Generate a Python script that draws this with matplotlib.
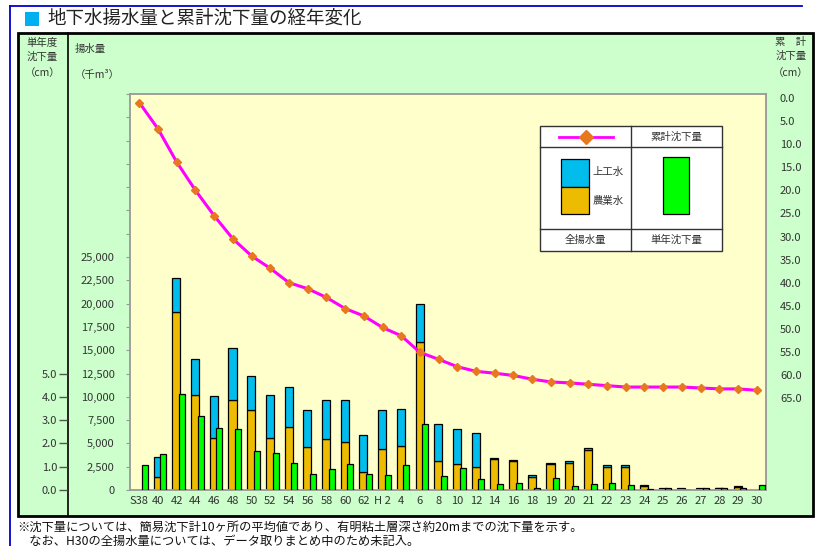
import matplotlib
matplotlib.use('Agg')
import matplotlib.pyplot as plt
from matplotlib.patches import Rectangle
from matplotlib.lines import Line2D
from matplotlib.ticker import FuncFormatter
import numpy as np

plt.rcParams['font.family'] = ['Noto Sans CJK JP', 'DejaVu Sans']

# 年度
years = ['S38', '40', '42', '44', '46', '48', '50', '52', '54', '56', '58', '60', '62',
         'H 2', '4', '6', '8', '10', '12', '14', '16', '18',
         '19', '20', '21', '22', '23', '24', '25', '26', '27', '28', '29', '30']
# 全揚水量 (千m3), None = 未記入
total = [None, 3510, 22700, 14020, 10050, 15200, 12200, 10160, 11020, 8550, 9620, 9620, 5870,
         8550, 8660, 19930, 7050, 6580, 6150, 3400, 3250, 1580,
         2900, 3080, 4470, 2650, 2650, 540, 215, 215, 190, 250, 430, None]
# 農業水 (千m3)
nogyo = [None, 1360, 19130, 10230, 5550, 9620, 8620, 5550, 6730, 4580, 5470, 5180, 1900,
         4370, 4750, 15910, 3110, 2760, 2430, 3300, 3100, 1400,
         2750, 2930, 4330, 2500, 2430, 400, 100, 60, 60, 230, 280, None]
# 単年沈下量 (cm)
yearly = [1.07, 1.53, 4.1, 3.17, 2.67, 2.63, 1.67, 1.6, 1.15, 0.69, 0.92, 1.11, 0.69,
          0.66, 1.07, 2.83, 0.59, 0.95, 0.46, 0.27, 0.30, 0.09,
          0.5, 0.17, 0.27, 0.30, 0.2, 0.03, 0.07, 0.0, 0.08, 0.1, 0.07, 0.2]
# 累計沈下量 (cm)
cumulative = [1.0, 6.7, 13.9, 20.0, 25.5, 30.5, 34.2, 36.9, 40.0, 41.3, 43.2, 45.6, 47.2,
              49.7, 51.5, 55.1, 56.6, 58.2, 59.2, 59.6, 60.1, 60.9,
              61.5, 61.7, 62.0, 62.3, 62.6, 62.6, 62.6, 62.6, 62.8, 63.0, 63.0, 63.3]

W, H = 817, 546
BLUE = '#00BDEE'
GOLD = '#EDBB00'
GREEN = '#00FF00'
TXT = '#333333'

fig = plt.figure(figsize=(W / 100, H / 100), dpi=100)
fig.patch.set_facecolor('white')


def fx(x):
    return x / W


def fy(y):
    return 1 - y / H


def rect(x0, y0, x1, y1, **kw):
    r = Rectangle((fx(x0), fy(y1)), (x1 - x0) / W, (y1 - y0) / H,
                  transform=fig.transFigure, **kw)
    fig.add_artist(r)
    return r


def line(xs, ys, **kw):
    fig.add_artist(Line2D([fx(v) for v in xs], [fy(v) for v in ys],
                          transform=fig.transFigure, **kw))


def text(x, y, s, **kw):
    kw.setdefault('va', 'center')
    kw.setdefault('color', TXT)
    fig.text(fx(x), fy(y), s, **kw)


# 枠・背景
line([9.5, 802], [6, 6], color='#0000CC', lw=1.3, zorder=-2)
line([9.5, 9.5], [6, 546], color='#0000CC', lw=1.3, zorder=-2)
rect(18, 33, 813, 516, fc='#CCFFCC', ec='black', lw=2, zorder=-1)
line([67.5, 67.5], [33, 516], color='black', lw=1.2, zorder=-1)

# タイトル
rect(25, 12, 39, 26, fc='#00B0F0', ec='none', zorder=2)
text(47, 19, '地下水揚水量と累計沈下量の経年変化', fontsize=13.3, color='#222222')

# 軸見出し
text(42.5, 42.5, '単年度', fontsize=7.5, ha='center')
text(42.5, 57, '沈下量', fontsize=7.5, ha='center')
text(42.5, 73, '（cm）', fontsize=7.5, ha='center')
text(75, 49, '揚水量', fontsize=7.5, ha='left')
text(75, 75, '（千m³）', fontsize=7.5, ha='left')
text(791, 42.5, '累　計', fontsize=7.5, ha='center')
text(791, 56, '沈下量', fontsize=7.5, ha='center')
text(791, 73, '（cm）', fontsize=7.5, ha='center')

# 注記
text(17, 527, '※沈下量については、簡易沈下計10ヶ所の平均値であり、有明粘土層深さ約20mまでの沈下量を示す。',
     fontsize=8.8, ha='left', color='#111111')
text(17, 541, '　なお、H30の全揚水量については、データ取りまとめ中のため未記入。',
     fontsize=8.8, ha='left', color='#111111')

# メイン軸
ax = fig.add_axes([fx(130), fy(490), (766 - 130) / W, (490 - 94) / H])
ax.set_facecolor('#FFFFCC')
for s in ax.spines.values():
    s.set_color('#999999')
    s.set_linewidth(1.3)

x = np.arange(len(years))
idx = [i for i, v in enumerate(total) if v is not None]
xb = x[idx] - 0.02
agri = np.array([nogyo[i] for i in idx], dtype=float)
joko = np.array([total[i] for i in idx], dtype=float) - agri
ax.bar(xb, agri, width=0.43, color=GOLD, edgecolor='black', linewidth=0.9)
ax.bar(xb, joko, bottom=agri, width=0.43, color=BLUE, edgecolor='black', linewidth=0.9)

ax.set_xlim(-0.5, len(years) - 0.5)
ax.set_ylim(0, 42500)
ax.set_yticks(np.arange(0, 42501, 2500))
ax.yaxis.set_major_formatter(FuncFormatter(lambda v, p: f'{v:,.0f}' if v <= 25000 else ''))
ax.tick_params(axis='y', length=3, color='#999999', pad=8, labelsize=8, labelcolor=TXT)
ax.set_xticks(x)
ax.set_xticklabels(years)
ax.tick_params(axis='x', length=0, pad=4, labelsize=8, labelcolor=TXT)

# 単年沈下量 (左端の軸)
ax_g = ax.twinx()
ax_g.bar(x + 0.28, yearly, width=0.32, color=GREEN, edgecolor='black', linewidth=0.9)
ax_g.set_ylim(0, 17)
ax_g.yaxis.tick_left()
ax_g.yaxis.set_label_position('left')
ax_g.set_yticks(np.arange(0, 5.1, 1.0))
ax_g.yaxis.set_major_formatter(FuncFormatter(lambda v, p: f'{v:.1f}'))
ax_g.spines['left'].set_position(('outward', 63 * 0.72))
for s in ax_g.spines.values():
    s.set_visible(False)
ax_g.tick_params(axis='y', length=6, width=1, color='#555555', pad=1, labelsize=8, labelcolor=TXT)

# 累計沈下量 (右軸)
ax_r = ax.twinx()
ax_r.plot(x, cumulative, color='#FF00FF', lw=2.2, marker='D', markersize=4,
          markerfacecolor='#E87820', markeredgecolor='#E87820')
ax_r.set_ylim(84.9, -0.87)
ax_r.set_yticks(np.arange(0, 65.1, 5))
ax_r.yaxis.set_major_formatter(FuncFormatter(lambda v, p: f'{v:.1f}'))
for s in ax_r.spines.values():
    s.set_visible(False)
ax_r.tick_params(axis='y', length=0, pad=10, labelsize=8, labelcolor=TXT)

# 凡例
rect(539.5, 126, 722, 251, fc='white', ec='#333333', lw=1, zorder=5)
line([539.5, 722], [146.7, 146.7], color='#333333', lw=1, zorder=6)
line([539.5, 722], [229, 229], color='#333333', lw=1, zorder=6)
line([630.7, 630.7], [126, 251], color='#333333', lw=1, zorder=6)
line([559, 613], [136.7, 136.7], color='#FF00FF', lw=2, zorder=6)
line([586], [136.7], marker='D', markersize=7, color='#E87820', lw=0, zorder=7)
text(676.7, 136.7, '累計沈下量', fontsize=7.5, ha='center', zorder=7)
rect(561, 159.3, 588.7, 186.7, fc=BLUE, ec='black', lw=0.9, zorder=6)
rect(561, 186.7, 588.7, 213.7, fc=GOLD, ec='black', lw=0.9, zorder=6)
text(592.5, 172.3, '上工水', fontsize=7.5, ha='left', zorder=7)
text(592.5, 201, '農業水', fontsize=7.5, ha='left', zorder=7)
rect(662.7, 157.3, 688.7, 213.7, fc=GREEN, ec='black', lw=0.9, zorder=6)
text(585, 239.5, '全揚水量', fontsize=7.5, ha='center', zorder=7)
text(676.7, 239.5, '単年沈下量', fontsize=7.5, ha='center', zorder=7)

fig.savefig('out.png', dpi=100)
